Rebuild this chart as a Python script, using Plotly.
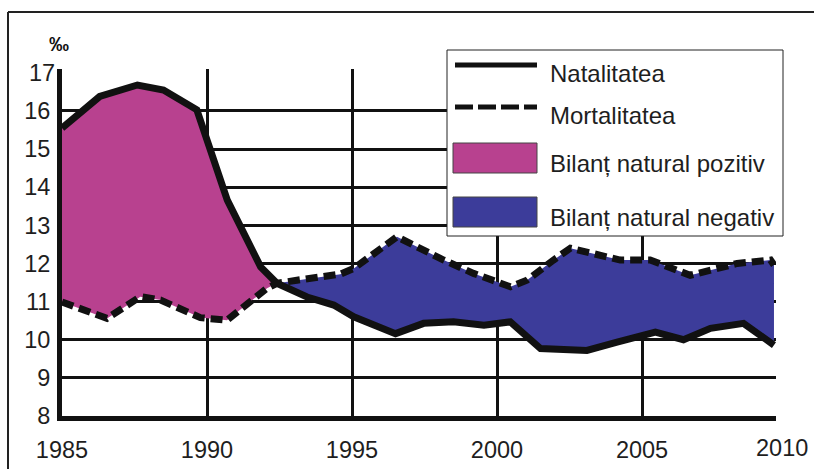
import plotly.graph_objects as go

# ---------------- data ----------------
nat_years = [1985.0, 1986.3, 1987.6, 1988.5, 1989.65, 1990.7, 1991.85, 1992.41,
             1993.45, 1994.37, 1995.06, 1996.5, 1997.47, 1998.5, 1999.55, 2000.46,
             2001.5, 2003.1, 2004.14, 2005.46, 2006.43, 2007.36, 2008.5, 2009.55]
nat_values = [15.55, 16.38, 16.68, 16.55, 16.03, 13.66, 11.91, 11.48,
              11.12, 10.91, 10.6, 10.16, 10.43, 10.47, 10.38, 10.47,
              9.77, 9.72, 9.94, 10.2, 10.0, 10.3, 10.43, 9.86]

mort_years = [1985.0, 1986.55, 1987.7, 1988.4, 1989.77, 1990.69, 1992.07, 1992.41,
              1993.1, 1994.6, 1995.06, 1996.55, 1998.16, 1999.19, 2000.46, 2001.03,
              2001.95, 2002.53, 2004.25, 2005.28, 2006.66, 2008.28, 2009.43, 2009.55]
mort_values = [10.99, 10.56, 11.13, 11.04, 10.58, 10.51, 11.35, 11.48,
               11.56, 11.72, 11.87, 12.7, 12.09, 11.74, 11.39, 11.56,
               12.09, 12.4, 12.09, 12.09, 11.69, 12.0, 12.09, 11.96]

cross_year = 1992.41  # where the two curves meet

x_tickvals = [1985, 1990, 1995, 2000, 2005]
x_ticktext = ["1985", "1990", "1995", "2000", "2005"]
last_year_label = "2010"
y_tickvals = [8, 9, 10, 11, 12, 13, 14, 15, 16]
y_top_label = 17

legend_labels = ["Natalitatea", "Mortalitatea", "Bilanț natural pozitiv", "Bilanț natural negativ"]

# ---------------- styling ----------------
W, H = 814, 469
PL, PR, PT, PB = 62, 776, 69, 416   # plot area in page pixels
ML, MR, MT, MB = PL, W - PR, PT, H - PB
PW, PH = PR - PL, PB - PT
POS_COLOR = "#B8418F"
NEG_COLOR = "#3C3C9A"
INK = "#111111"
TXT = "#1e1e1e"
FONT = "Arial, Liberation Sans, sans-serif"


def px_x(p):
    return (p - PL) / PW


def px_y(p):
    return (PB - p) / PH


# split series at the crossing point
nat_pos_x = [x for x in nat_years if x <= cross_year]
nat_pos_y = [v for x, v in zip(nat_years, nat_values) if x <= cross_year]
mort_pos_x = [x for x in mort_years if x <= cross_year]
mort_pos_y = [v for x, v in zip(mort_years, mort_values) if x <= cross_year]

nat_neg_x = [x for x in nat_years if x >= cross_year]
nat_neg_y = [v for x, v in zip(nat_years, nat_values) if x >= cross_year]
mort_neg_x = [x for x in mort_years if x >= cross_year]
mort_neg_y = [v for x, v in zip(mort_years, mort_values) if x >= cross_year]

fig = go.Figure()

fig.add_trace(go.Scatter(
    x=nat_pos_x + mort_pos_x[::-1], y=nat_pos_y + mort_pos_y[::-1],
    fill="toself", fillcolor=POS_COLOR, mode="lines", line=dict(width=0),
    name=legend_labels[2], showlegend=False, hoverinfo="skip"))
fig.add_trace(go.Scatter(
    x=mort_neg_x + nat_neg_x[::-1], y=mort_neg_y + nat_neg_y[::-1],
    fill="toself", fillcolor=NEG_COLOR, mode="lines", line=dict(width=0),
    name=legend_labels[3], showlegend=False, hoverinfo="skip"))
fig.add_trace(go.Scatter(
    x=nat_years, y=nat_values, mode="lines",
    line=dict(color=INK, width=7), name=legend_labels[0], showlegend=False))
fig.add_trace(go.Scatter(
    x=mort_years, y=mort_values, mode="lines",
    line=dict(color=INK, width=7, dash="12px,6px"), name=legend_labels[1], showlegend=False))

shapes = []
# outer frame (top and left edges only are visible)
shapes.append(dict(type="line", xref="paper", yref="paper",
                   x0=px_x(8), x1=px_x(900), y0=px_y(12), y1=px_y(12),
                   line=dict(color="#222", width=2), layer="below"))
shapes.append(dict(type="line", xref="paper", yref="paper",
                   x0=px_x(8), x1=px_x(8), y0=px_y(12), y1=px_y(520),
                   line=dict(color="#222", width=2), layer="below"))
# legend box
shapes.append(dict(type="rect", xref="paper", yref="paper",
                   x0=px_x(447), x1=px_x(783), y0=px_y(236), y1=px_y(50),
                   line=dict(color="#222", width=1), fillcolor="white", layer="above"))
shapes.append(dict(type="line", xref="paper", yref="paper",
                   x0=px_x(455), x1=px_x(537), y0=px_y(65), y1=px_y(65),
                   line=dict(color=INK, width=5), layer="above"))
shapes.append(dict(type="line", xref="paper", yref="paper",
                   x0=px_x(455), x1=px_x(537), y0=px_y(107), y1=px_y(107),
                   line=dict(color=INK, width=5, dash="18px,5px"), layer="above"))
shapes.append(dict(type="rect", xref="paper", yref="paper",
                   x0=px_x(453), x1=px_x(537), y0=px_y(173), y1=px_y(143),
                   line=dict(color="#444", width=1), fillcolor=POS_COLOR, layer="above"))
shapes.append(dict(type="rect", xref="paper", yref="paper",
                   x0=px_x(453), x1=px_x(537), y0=px_y(227), y1=px_y(197),
                   line=dict(color="#444", width=1), fillcolor=NEG_COLOR, layer="above"))

annotations = []
for label, yc in zip(legend_labels, [73, 115, 163, 217]):
    annotations.append(dict(text=label, xref="paper", yref="paper",
                            x=px_x(548), y=px_y(yc), xanchor="left", yanchor="middle",
                            showarrow=False, font=dict(family=FONT, size=24, color=TXT)))
annotations.append(dict(text="<b>‰</b>", xref="paper", yref="paper", x=px_x(59), y=px_y(44),
                        xanchor="center", yanchor="middle", showarrow=False,
                        font=dict(family=FONT, size=20, color="#111")))
annotations.append(dict(text=str(y_top_label), xref="paper", yref="y", x=0, y=y_top_label,
                        xanchor="right", yanchor="middle", xshift=-5, showarrow=False,
                        font=dict(family=FONT, size=23.5, color=TXT)))
annotations.append(dict(text=last_year_label, xref="paper", yref="paper", x=px_x(782), y=px_y(448),
                        xanchor="center", yanchor="middle", showarrow=False,
                        font=dict(family=FONT, size=23.5, color=TXT)))

fig.update_layout(
    width=W, height=H,
    margin=dict(l=ML, r=MR, t=MT, b=MB, autoexpand=False),
    paper_bgcolor="white", plot_bgcolor="white",
    showlegend=False,
    shapes=shapes, annotations=annotations,
    font=dict(family=FONT, color=TXT),
    xaxis=dict(range=[1985, 2009.62], tickvals=x_tickvals, ticktext=x_ticktext,
               showgrid=True, gridcolor=INK, gridwidth=3, zeroline=False,
               showline=True, linecolor=INK, linewidth=5, ticks="",
               ticklabelstandoff=9, tickfont=dict(family=FONT, size=23.5, color=TXT)),
    yaxis=dict(range=[8, 17.1], tickvals=y_tickvals,
               showgrid=True, gridcolor=INK, gridwidth=3, zeroline=False,
               showline=True, linecolor=INK, linewidth=5, ticks="",
               ticklabelstandoff=2, tickfont=dict(family=FONT, size=23.5, color=TXT)),
)

fig.write_html("out.html",
               config={"displayModeBar": False},
               post_script="document.body.style.margin='0';document.body.style.overflow='hidden';")
